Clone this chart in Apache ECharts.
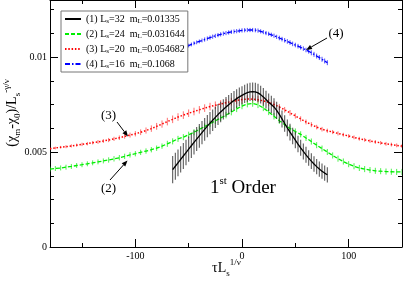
<!DOCTYPE html>
<html><head><meta charset="utf-8">
<script src="https://cdn.jsdelivr.net/npm/echarts@6/dist/echarts.min.js"></script>
<style>html,body{margin:0;padding:0;background:#fff}#c{width:403px;height:283px}</style>
</head><body><div id="c"></div>
<script>
const FONT = '"Liberation Serif", "DejaVu Serif", serif';

// ---- tick values ----
const xTickMajor = [-100, 0, 100];
const xTickMinor = [-150, -50, 50];
const yTickMajor = [0, 0.005, 0.01];
const yTickMinor = [0.00125, 0.0025, 0.00375, 0.00625, 0.0075, 0.00875, 0.01125, 0.0125];

// ---- legend labels ----
const legendLabels = {
  s1: '(1) L{s|s}=32  m{s|L}=0.01335',
  s2: '(2) L{s|s}=24  m{s|L}=0.031644',
  s3: '(3) L{s|s}=20  m{s|L}=0.054682',
  s4: '(4) L{s|s}=16  m{s|L}=0.1068'
};

// ---- series (1) Ls=32 ----
const x1 = [-65,-62.5,-60,-57.5,-55,-52.5,-50,-47.5,-45,-42.5,-40,-37.5,-35,-32.5,-30,-27.5,-25,-22.5,-20,-17.5,-15,-12.5,-10,-7.5,-5,-2.5,0,2.5,5,7.5,10,12.5,15,17.5,20,22.5,25,27.5,30,32.5,35,37.5,40,42.5,45,47.5,50,52.5,55,57.5,60,62.5,65,67.5,70,72.5,75,77.5,80];
const y1 = [0.00407,0.00425,0.00443,0.00461,0.00479,0.00497,0.00515,0.00533,0.00551,0.00568,0.00585,0.00602,0.00619,0.00636,0.00652,0.00667,0.00682,0.00697,0.00711,0.00724,0.00737,0.00749,0.00760,0.00771,0.00781,0.00790,0.00798,0.00806,0.00812,0.00816,0.00818,0.00816,0.00811,0.00802,0.00790,0.00776,0.00762,0.00750,0.00737,0.00719,0.00698,0.00674,0.00650,0.00627,0.00605,0.00584,0.00563,0.00542,0.00522,0.00503,0.00485,0.00468,0.00452,0.00437,0.00423,0.00410,0.00399,0.00389,0.00380];
const e1 = [0.00072,0.00071,0.0007,0.00069,0.00068,0.00067,0.00066,0.00065,0.00064,0.00063,0.00062,0.00061,0.0006,0.00059,0.00058,0.00057,0.00056,0.00055,0.00054,0.00053,0.00052,0.00051,0.0005,0.0005,0.00049,0.00049,0.00048,0.00048,0.00048,0.00048,0.00048,0.00048,0.00048,0.00047,0.00047,0.00047,0.00046,0.00046,0.00046,0.00045,0.00045,0.00045,0.00044,0.00044,0.00044,0.00043,0.00043,0.00043,0.00042,0.00042,0.00042,0.00041,0.00041,0.00041,0.0004,0.0004,0.0004,0.0004,0.0004];

// ---- series (2) Ls=24 and (3) Ls=20 share x ----
const x23 = [-180,-175,-170,-165,-160,-155,-150,-145,-140,-135,-130,-125,-120,-115,-110,-105,-100,-95,-90,-85,-80,-75,-70,-65,-60,-55,-50,-45,-40,-35,-30,-25,-20,-15,-10,-5,0,5,10,15,20,25,30,35,40,45,50,55,60,65,70,75,80,85,90,95,100,105,110,115,120,125,130,135,140,145,150];
const y2 = [0.00410,0.00413,0.00416,0.00420,0.00424,0.00429,0.00433,0.00438,0.00443,0.00448,0.00453,0.00458,0.00464,0.00470,0.00477,0.00485,0.00491,0.00498,0.00505,0.00512,0.00520,0.00531,0.00543,0.00556,0.00569,0.00578,0.00591,0.00604,0.00619,0.00634,0.00649,0.00664,0.00679,0.00694,0.00710,0.00727,0.00742,0.00752,0.00755,0.00748,0.00732,0.00711,0.00688,0.00665,0.00644,0.00624,0.00608,0.00593,0.00574,0.00555,0.00536,0.00518,0.00500,0.00482,0.00465,0.00450,0.00436,0.00425,0.00416,0.00410,0.00405,0.00401,0.00399,0.00397,0.00396,0.00395,0.00395];
const e2 = [0.00013,0.00013,0.00013,0.00013,0.00013,0.00013,0.00013,0.00013,0.00013,0.00013,0.00013,0.00014,0.00014,0.00014,0.00014,0.00014,0.00014,0.00014,0.00014,0.00014,0.00014,0.00014,0.00016,0.00016,0.00016,0.00016,0.00016,0.00016,0.00016,0.00016,0.00016,0.00016,0.00016,0.00017,0.00017,0.00017,0.00017,0.00017,0.00017,0.00017,0.00017,0.00017,0.00017,0.00017,0.00016,0.00016,0.00016,0.00016,0.00016,0.00016,0.00016,0.00016,0.00016,0.00016,0.00016,0.00016,0.00016,0.00016,0.00016,0.00016,0.00016,0.00016,0.00016,0.00016,0.00016,0.00016,0.00016];
const y3 = [0.00517,0.00521,0.00525,0.00528,0.00532,0.00536,0.00540,0.00544,0.00549,0.00553,0.00558,0.00563,0.00569,0.00575,0.00582,0.00589,0.00596,0.00604,0.00613,0.00623,0.00635,0.00647,0.00660,0.00672,0.00684,0.00694,0.00704,0.00713,0.00722,0.00731,0.00739,0.00746,0.00753,0.00759,0.00765,0.00771,0.00776,0.00779,0.00778,0.00775,0.00769,0.00761,0.00750,0.00737,0.00722,0.00706,0.00690,0.00674,0.00658,0.00644,0.00631,0.00620,0.00612,0.00605,0.00598,0.00591,0.00584,0.00577,0.00570,0.00564,0.00558,0.00553,0.00548,0.00543,0.00539,0.00535,0.00531];
const e3 = [0.00007,0.00007,0.00007,0.00008,0.00008,0.00008,0.00009,0.00009,0.00009,0.0001,0.0001,0.00011,0.00011,0.00012,0.00012,0.00013,0.00014,0.00015,0.00016,0.00017,0.00018,0.00019,0.0002,0.0002,0.0002,0.0002,0.0002,0.0002,0.0002,0.0002,0.0002,0.0002,0.0002,0.0002,0.0002,0.0002,0.0002,0.0002,0.0002,0.0002,0.00019,0.00018,0.00017,0.00016,0.00015,0.00015,0.00014,0.00014,0.00013,0.00013,0.00012,0.00012,0.00011,0.00011,0.00011,0.0001,0.0001,0.0001,0.0001,0.0001,0.0001,0.0001,0.0001,0.0001,0.0001,0.0001,0.0001];

// ---- series (4) Ls=16 ----
const x4 = [-60,-57.5,-55,-52.5,-50,-47.5,-45,-42.5,-40,-37.5,-35,-32.5,-30,-27.5,-25,-22.5,-20,-17.5,-15,-12.5,-10,-7.5,-5,-2.5,0,2.5,5,7.5,10,12.5,15,17.5,20,22.5,25,27.5,30,32.5,35,37.5,40,42.5,45,47.5,50,52.5,55,57.5,60,62.5,65,67.5,70,72.5,75,77.5,80];
const y4 = [0.01032,0.01039,0.01046,0.01053,0.01060,0.01066,0.01072,0.01077,0.01082,0.01087,0.01092,0.01097,0.01102,0.01107,0.01111,0.01115,0.01119,0.01123,0.01126,0.01129,0.01132,0.01134,0.01136,0.01138,0.01140,0.01141,0.01142,0.01142,0.01142,0.01141,0.01139,0.01135,0.01131,0.01126,0.01122,0.01117,0.01112,0.01106,0.01100,0.01094,0.01088,0.01082,0.01076,0.01069,0.01063,0.01057,0.01051,0.01044,0.01037,0.01030,0.01022,0.01014,0.01005,0.00997,0.00988,0.00979,0.00970];
const e4 = [0.0001,0.0001,0.0001,0.0001,0.0001,0.0001,0.0001,0.0001,0.0001,0.0001,0.00011,0.00011,0.00011,0.00011,0.00011,0.00011,0.00011,0.00011,0.00011,0.00011,0.00011,0.00011,0.00011,0.00011,0.00011,0.00011,0.00011,0.00011,0.00011,0.00011,0.00011,0.00011,0.00011,0.00011,0.00011,0.00011,0.00011,0.00011,0.00012,0.00012,0.00012,0.00012,0.00012,0.00012,0.00012,0.00012,0.00012,0.00012,0.00012,0.00012,0.00013,0.00013,0.00013,0.00013,0.00013,0.00013,0.00013];

// ---------------------------------------------------------------
const pts = (xs, ys) => xs.map((x, i) => [x, ys[i]]);
const errPts = (xs, ys, es) => xs.map((x, i) => [x, ys[i], es[i]]);

function errRender(color, width, opacity) {
  return function (params, api) {
    const x = api.value(0), y = api.value(1), e = api.value(2);
    const a = api.coord([x, y - e]), b = api.coord([x, y + e]);
    return { type: 'line', shape: { x1: a[0], y1: a[1], x2: b[0], y2: b[1] },
      style: { stroke: color, lineWidth: width, opacity: opacity } };
  };
}
function errSeries(data, color, width, opacity, z) {
  return { type: 'custom', data: data, renderItem: errRender(color, width, opacity),
    encode: { x: 0, y: 1 }, z: z, silent: true, clip: true };
}

function arrow(x1, y1, x2, y2) {
  const dx = x2 - x1, dy = y2 - y1, L = Math.hypot(dx, dy), ux = dx / L, uy = dy / L;
  const hl = 6, hw = 2.4;
  const bx = x2 - ux * hl, by = y2 - uy * hl;
  return [
    { type: 'line', shape: { x1: x1, y1: y1, x2: bx, y2: by }, style: { stroke: '#000', lineWidth: 1 }, z: 50 },
    { type: 'polygon', shape: { points: [[x2, y2], [bx - uy * hw, by + ux * hw], [bx + uy * hw, by - ux * hw]] }, style: { fill: '#000' }, z: 50 }
  ];
}

const baseX = { type: 'value', min: -180, max: 150, splitLine: { show: false } };
const baseY = { type: 'value', min: 0, max: 0.013, splitLine: { show: false } };
const axLine = { show: true, onZero: false, lineStyle: { color: '#000', width: 1 } };
const noLine = { show: false, onZero: false };
const tick = (vals, len) => ({ show: true, inside: true, length: len, customValues: vals, lineStyle: { color: '#000', width: 1 } });

const supsub = {
  sub: { fontFamily: FONT, fontSize: 9, lineHeight: 9, verticalAlign: 'bottom', fill: '#000' },
  sup: { fontFamily: FONT, fontSize: 9, lineHeight: 9, verticalAlign: 'top', fill: '#000' }
};

const chart = echarts.init(document.getElementById('c'), null, { renderer: 'canvas' });
chart.setOption({
  animation: false,
  backgroundColor: '#fff',
  grid: { left: 50, right: 1, top: 0, bottom: 36, containLabel: false },
  xAxis: [
    Object.assign({}, baseX, { position: 'bottom', axisLine: axLine, axisTick: tick(xTickMajor, 8),
      axisLabel: { customValues: xTickMajor, fontFamily: FONT, fontSize: 10, color: '#000', margin: 4 } }),
    Object.assign({}, baseX, { position: 'bottom', axisLine: noLine, axisTick: tick(xTickMinor, 4), axisLabel: { show: false } }),
    Object.assign({}, baseX, { position: 'top', axisLine: axLine, axisTick: tick(xTickMajor, 8), axisLabel: { show: false } }),
    Object.assign({}, baseX, { position: 'top', axisLine: noLine, axisTick: tick(xTickMinor, 4), axisLabel: { show: false } })
  ],
  yAxis: [
    Object.assign({}, baseY, { position: 'left', axisLine: axLine, axisTick: tick(yTickMajor, 8),
      axisLabel: { customValues: yTickMajor, fontFamily: FONT, fontSize: 10, color: '#000', margin: 3, formatter: v => String(v) } }),
    Object.assign({}, baseY, { position: 'left', axisLine: noLine, axisTick: tick(yTickMinor, 4), axisLabel: { show: false } }),
    Object.assign({}, baseY, { position: 'right', axisLine: axLine, axisTick: tick(yTickMajor, 8), axisLabel: { show: false } }),
    Object.assign({}, baseY, { position: 'right', axisLine: noLine, axisTick: tick(yTickMinor, 4), axisLabel: { show: false } })
  ],
  legend: {
    data: ['s1', 's2', 's3', 's4'],
    orient: 'vertical', left: 61, top: 11,
    backgroundColor: '#fff', borderColor: '#777', borderWidth: 1,
    padding: [2, 3, 2, 3], itemGap: 3, itemWidth: 16, itemHeight: 12,
    selectedMode: false, z: 20,
    itemStyle: { opacity: 0 },
    formatter: n => legendLabels[n],
    textStyle: { fontFamily: FONT, fontSize: 10, lineHeight: 12, color: '#000',
      rich: { s: { fontFamily: FONT, fontSize: 7, lineHeight: 7, verticalAlign: 'bottom', color: '#000' } } }
  },
  series: [
    errSeries(errPts(x23, y3, e3), '#ff3030', 1, 0.7, 2),
    { name: 's3', type: 'line', data: pts(x23, y3), symbol: 'none', z: 3,
      lineStyle: { color: '#ff0000', width: 1.5, type: [1.5, 1.8] }, itemStyle: { color: '#ff0000' } },
    errSeries(errPts(x23, y2, e2), '#20ee20', 1, 0.8, 4),
    { name: 's2', type: 'line', data: pts(x23, y2), symbol: 'none', z: 5,
      lineStyle: { color: '#00ee00', width: 1.3, type: [4, 2] }, itemStyle: { color: '#00ee00' } },
    errSeries(errPts(x1, y1, e1), '#222', 1.1, 0.75, 6),
    { name: 's1', type: 'line', data: pts(x1, y1), symbol: 'none', z: 7,
      lineStyle: { color: '#000', width: 1.3 }, itemStyle: { color: '#000' } },
    errSeries(errPts(x4, y4, e4), '#2020ff', 1, 0.8, 8),
    { name: 's4', type: 'line', data: pts(x4, y4), symbol: 'none', z: 9,
      lineStyle: { color: '#0000ff', width: 1.3, type: [5, 2, 1.5, 2] }, itemStyle: { color: '#0000ff' } }
  ],
  graphic: [
    { type: 'text', x: 12, y: 113, rotation: Math.PI / 2, z: 30,
      style: { text: '(χ{sub|m}-χ{sub|0})/L{sub|s}{sup|-γ/ν}', fontFamily: FONT, fontSize: 14, lineHeight: 20,
        fill: '#000', align: 'center', verticalAlign: 'middle', rich: supsub } },
    { type: 'text', x: 212, y: 268, z: 30,
      style: { text: 'τL{sub|s}{sup|1/ν}', fontFamily: FONT, fontSize: 14, lineHeight: 20,
        fill: '#000', align: 'left', verticalAlign: 'middle', rich: supsub } },
    { type: 'text', x: 210, y: 188, z: 30,
      style: { text: '1{sup|st} Order', fontFamily: FONT, fontSize: 19, lineHeight: 24, fill: '#000',
        align: 'left', verticalAlign: 'middle',
        rich: { sup: { fontFamily: FONT, fontSize: 11, lineHeight: 11, verticalAlign: 'top', fill: '#000' } } } },
    { type: 'text', x: 336, y: 34, z: 30, style: { text: '(4)', fontFamily: FONT, fontSize: 13, fill: '#000', align: 'center', verticalAlign: 'middle' } },
    { type: 'text', x: 108.5, y: 116, z: 30, style: { text: '(3)', fontFamily: FONT, fontSize: 13, fill: '#000', align: 'center', verticalAlign: 'middle' } },
    { type: 'text', x: 108.5, y: 189, z: 30, style: { text: '(2)', fontFamily: FONT, fontSize: 13, fill: '#000', align: 'center', verticalAlign: 'middle' } }
  ].concat(arrow(327, 38, 306, 50), arrow(117, 122, 128, 136.5), arrow(110, 180, 127.5, 160.5))
});
</script>
</body></html>
